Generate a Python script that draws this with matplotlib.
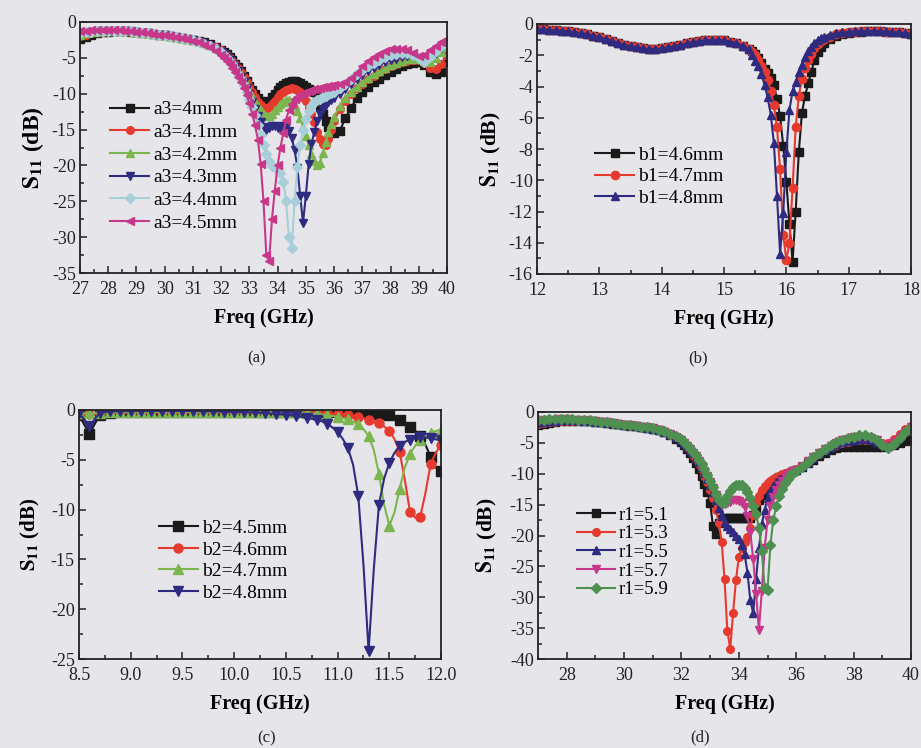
import numpy as np
import matplotlib
matplotlib.use("Agg")
import matplotlib.pyplot as plt
from matplotlib.ticker import MultipleLocator, FormatStrFormatter

plt.rcParams['font.family'] = ['Liberation Serif', 'DejaVu Serif']
plt.rcParams['mathtext.fontset'] = 'stix'
plt.rcParams['axes.unicode_minus'] = False

# ---------------- frequency grids (GHz) ----------------
freq_ad = np.round(np.concatenate([np.arange(27.0, 32.01, 0.2),
                                   np.arange(32.1, 35.91, 0.1),
                                   np.arange(36.0, 40.01, 0.2)]), 2)
freq_b = np.round(np.concatenate([np.arange(12.0, 15.41, 0.1),
                                  np.arange(15.45, 16.61, 0.05),
                                  np.arange(16.7, 18.01, 0.1)]), 2)
freq_c = np.round(np.concatenate([np.arange(8.5, 10.81, 0.1),
                                  np.arange(10.85, 12.01, 0.05)]), 2)

# ---------------- (a) a3 sweep, S11 (dB) ----------------
a_labels = ['a3=4mm', 'a3=4.1mm', 'a3=4.2mm', 'a3=4.3mm', 'a3=4.4mm', 'a3=4.5mm']
a3_40 = ([-2.4,-2.1,-1.8,-1.6,-1.45,-1.35,-1.3,-1.28,-1.3,-1.35,-1.42,-1.5,-1.6,-1.7,-1.8,-1.85,-1.95,-2.05,-2.2,-2.35,-2.5,-2.65,-2.85,-3.1,-3.45,-3.85]
         + [-4.2,-4.5,-4.9,-5.3,-5.8,-6.3,-6.9,-7.5,-8.2,-8.9,-9.5,-10.1,-10.6,-11.0,-11.2,-11.3,-11.0,-10.5,-10.0,-9.5,-9.1,-8.8,-8.5,-8.3,-8.2,-8.2,-8.3,-8.5,-8.8,-9.1,-9.4,-9.6,-9.8,-10.5,-11.8,-12.8,-13.8,-14.6,-15.2]
         + [-15.5,-15.2,-13.4,-12.0,-10.6,-9.7,-9.0,-8.4,-7.9,-7.4,-7.0,-6.6,-6.2,-5.9,-5.7,-5.6,-6.0,-7.0,-7.3,-7.0,-5.6])
a3_41 = ([-2.0,-1.8,-1.6,-1.45,-1.35,-1.28,-1.25,-1.25,-1.28,-1.33,-1.42,-1.5,-1.6,-1.7,-1.8,-1.85,-1.95,-2.05,-2.2,-2.35,-2.5,-2.68,-2.9,-3.2,-3.55,-3.95]
         + [-4.3,-4.6,-5.0,-5.4,-5.9,-6.4,-7.0,-7.7,-8.4,-9.1,-9.8,-10.5,-11.1,-11.6,-12.0,-12.1,-11.9,-11.5,-11.0,-10.5,-10.1,-9.8,-9.5,-9.3,-9.2,-9.3,-9.5,-9.8,-10.3,-11.0,-11.8,-12.8,-14.0,-15.3,-16.3,-17.0,-17.2,-16.3,-15.0]
         + [-13.8,-12.2,-11.0,-10.0,-9.2,-8.6,-8.0,-7.5,-7.0,-6.6,-6.2,-5.9,-5.6,-5.4,-5.3,-5.3,-5.7,-6.4,-6.6,-5.8,-4.6])
a3_42 = ([-1.8,-1.6,-1.45,-1.38,-1.3,-1.25,-1.22,-1.22,-1.26,-1.32,-1.4,-1.5,-1.6,-1.7,-1.8,-1.85,-1.95,-2.05,-2.2,-2.35,-2.5,-2.7,-2.93,-3.25,-3.65,-4.1]
         + [-4.4,-4.7,-5.1,-5.5,-6.0,-6.6,-7.2,-7.9,-8.7,-9.5,-10.3,-11.0,-11.7,-12.3,-12.8,-13.1,-13.1,-12.8,-12.3,-11.8,-11.4,-11.1,-10.9,-10.9,-11.1,-11.6,-12.4,-13.4,-14.6,-15.9,-17.2,-18.4,-19.4,-20.0,-19.6,-18.3,-16.8,-15.4,-14.2]
         + [-13.2,-11.7,-10.6,-9.7,-9.0,-8.4,-7.8,-7.3,-6.8,-6.4,-6.0,-5.7,-5.4,-5.2,-5.1,-5.1,-5.4,-5.6,-5.0,-4.2,-3.5])
a3_43 = ([-1.7,-1.5,-1.4,-1.32,-1.27,-1.22,-1.2,-1.2,-1.25,-1.3,-1.4,-1.5,-1.6,-1.7,-1.8,-1.85,-1.95,-2.05,-2.2,-2.35,-2.52,-2.72,-2.98,-3.32,-3.75,-4.2]
         + [-4.5,-4.9,-5.3,-5.8,-6.3,-6.9,-7.6,-8.4,-9.2,-10.1,-11.1,-12.1,-13.1,-14.0,-14.7,-15.0,-14.8,-14.5,-14.5,-14.8,-14.8,-14.5,-14.6,-15.2,-16.2,-17.8,-20.3,-24.3,-28.0,-24.2,-19.8,-17.0,-15.3,-13.8,-12.8,-12.1,-11.6,-11.2,-10.9]
         + [-10.6,-10.0,-9.4,-8.7,-8.0,-7.4,-6.9,-6.4,-6.0,-5.6,-5.3,-5.1,-4.9,-4.8,-4.8,-5.0,-5.4,-5.0,-4.3,-3.6,-3.0])
a3_44 = ([-1.6,-1.45,-1.35,-1.3,-1.25,-1.2,-1.2,-1.2,-1.25,-1.3,-1.4,-1.5,-1.6,-1.7,-1.8,-1.85,-1.95,-2.05,-2.2,-2.35,-2.52,-2.73,-3.0,-3.35,-3.78,-4.25]
         + [-4.6,-5.0,-5.4,-5.9,-6.5,-7.2,-8.0,-8.8,-9.7,-10.7,-11.8,-13.0,-14.3,-15.7,-17.1,-18.4,-19.4,-20.1,-20.4,-20.5,-21.0,-22.3,-25.0,-30.0,-31.5,-25.0,-20.2,-17.2,-15.0,-13.5,-12.4,-11.7,-11.2,-10.9,-10.7,-10.5,-10.3,-10.1,-9.9]
         + [-9.7,-9.2,-8.6,-7.9,-7.3,-6.7,-6.2,-5.7,-5.3,-4.9,-4.6,-4.4,-4.3,-4.3,-4.6,-5.0,-5.6,-4.9,-4.0,-3.4,-2.8])
a3_45 = ([-1.3,-1.2,-1.15,-1.12,-1.1,-1.1,-1.12,-1.15,-1.2,-1.27,-1.35,-1.45,-1.55,-1.65,-1.75,-1.85,-1.95,-2.05,-2.2,-2.38,-2.6,-2.85,-3.15,-3.55,-4.05,-4.65]
         + [-5.0,-5.4,-5.9,-6.4,-7.0,-7.7,-8.4,-9.2,-10.2,-11.3,-12.8,-14.4,-16.4,-19.8,-25.0,-32.5,-33.3,-27.5,-23.5,-20.0,-17.5,-15.5,-13.6,-12.3,-11.4,-10.8,-10.4,-10.1,-9.9,-9.7,-9.6,-9.5,-9.4,-9.3,-9.2,-9.1,-9.0,-8.9,-8.9]
         + [-8.8,-8.6,-8.3,-7.8,-7.1,-6.2,-5.5,-4.9,-4.4,-4.0,-3.8,-3.7,-3.7,-3.9,-4.3,-4.7,-4.6,-3.9,-3.3,-2.8,-2.4])

# ---------------- (b) b1 sweep ----------------
b_labels = ['b1=4.6mm', 'b1=4.7mm', 'b1=4.8mm']
b_shared_low = [-0.35,-0.35,-0.37,-0.4,-0.43,-0.47,-0.52,-0.58,-0.65,-0.74,
                -0.84,-0.95,-1.07,-1.2,-1.32,-1.42,-1.5,-1.56,-1.6,-1.6,
                -1.56,-1.5,-1.42,-1.33,-1.24,-1.17,-1.1,-1.05,-1.02,-1.02,
                -1.05,-1.12,-1.22,-1.38,-1.6]
b1_46 = b_shared_low + [-1.75,-1.95,-2.2,-2.5,-2.85,-3.15,-3.45,-3.9,-4.8,-5.9,-7.8,-10.1,-12.8,-15.2,-12.0,-8.2,-5.7,-4.6,-3.8,-3.1,-2.3,-1.8,-1.45,-1.2] \
        + [-0.95,-0.78,-0.66,-0.58,-0.52,-0.48,-0.46,-0.45,-0.46,-0.48,-0.5,-0.54,-0.58,-0.62]
b1_47 = b_shared_low + [-1.8,-2.0,-2.3,-2.7,-3.1,-3.6,-4.3,-5.2,-6.6,-9.3,-13.5,-15.1,-14.0,-10.5,-6.6,-4.6,-3.5,-2.8,-2.3,-1.9,-1.55,-1.3,-1.1,-0.95] \
        + [-0.8,-0.66,-0.58,-0.52,-0.48,-0.46,-0.45,-0.45,-0.46,-0.48,-0.5,-0.54,-0.58,-0.62]
b1_48 = b_shared_low + [-2.0,-2.35,-2.7,-3.2,-3.9,-4.7,-5.8,-7.6,-11.0,-14.7,-12.1,-8.2,-5.5,-4.3,-3.7,-3.1,-2.6,-2.1,-1.7,-1.45,-1.2,-1.0,-0.9,-0.8] \
        + [-0.7,-0.6,-0.54,-0.5,-0.47,-0.45,-0.44,-0.44,-0.45,-0.47,-0.5,-0.54,-0.58,-0.62]

# ---------------- (c) b2 sweep ----------------
c_labels = ['b2=4.5mm', 'b2=4.6mm', 'b2=4.7mm', 'b2=4.8mm']
b2_45 = [-0.5,-2.4,-0.5,-0.3,-0.22,-0.2,-0.2,-0.2,-0.2,-0.2,-0.2,-0.2,-0.2,-0.2,-0.2,-0.2,-0.2,-0.2,-0.2,-0.2,-0.2,-0.2,-0.2,-0.2] \
        + [-0.2,-0.2,-0.2,-0.2,-0.2,-0.22,-0.25,-0.27,-0.3,-0.32,-0.35,-0.4,-0.45,-0.55,-0.75,-1.05,-1.35,-1.7,-2.1,-2.6,-3.5,-4.7,-5.8,-6.1]
b2_46 = [-0.4,-0.4,-0.35,-0.25,-0.2,-0.2,-0.2,-0.2,-0.2,-0.2,-0.2,-0.2,-0.2,-0.2,-0.2,-0.2,-0.2,-0.2,-0.2,-0.2,-0.2,-0.22,-0.25,-0.3] \
        + [-0.32,-0.35,-0.38,-0.42,-0.48,-0.55,-0.63,-0.72,-0.83,-0.98,-1.15,-1.35,-1.65,-2.1,-2.9,-4.2,-7.0,-10.2,-10.8,-10.7,-8.3,-5.4,-4.3,-3.5]
b2_47 = [-0.3,-0.35,-0.3,-0.25,-0.2,-0.2,-0.2,-0.2,-0.2,-0.2,-0.2,-0.2,-0.2,-0.2,-0.2,-0.2,-0.2,-0.2,-0.2,-0.2,-0.2,-0.25,-0.3,-0.4] \
        + [-0.45,-0.52,-0.6,-0.7,-0.8,-0.95,-1.15,-1.45,-1.9,-2.6,-4.0,-6.4,-9.5,-11.6,-10.3,-7.9,-5.8,-4.4,-3.6,-3.0,-2.6,-2.3,-2.1,-2.0]
b2_48 = [-0.3,-1.6,-0.3,-0.15,-0.12,-0.1,-0.1,-0.1,-0.1,-0.1,-0.1,-0.1,-0.12,-0.14,-0.16,-0.2,-0.22,-0.25,-0.3,-0.38,-0.48,-0.6,-0.78,-1.0] \
        + [-1.15,-1.4,-1.75,-2.2,-2.9,-3.8,-5.5,-8.6,-15.5,-24.2,-16.0,-9.5,-6.9,-5.3,-4.3,-3.6,-3.2,-3.0,-2.85,-2.75,-2.75,-2.85,-2.95,-3.05]

# ---------------- (d) r1 sweep ----------------
d_labels = ['r1=5.1', 'r1=5.3', 'r1=5.5', 'r1=5.7', 'r1=5.9']
r1_51 = ([-2.1,-1.9,-1.75,-1.6,-1.5,-1.45,-1.42,-1.42,-1.45,-1.52,-1.6,-1.7,-1.8,-1.9,-2.0,-2.1,-2.2,-2.3,-2.42,-2.55,-2.7,-2.95,-3.3,-3.75,-4.3,-4.9]
         + [-5.4,-6.0,-6.7,-7.4,-8.3,-9.3,-10.4,-11.6,-13.0,-14.8,-18.5,-19.8,-18.0,-17.3,-17.2,-17.2,-17.2,-17.2,-17.2,-17.2,-17.2,-17.2,-17.2,-17.1,-16.7,-15.5,-14.3,-13.4,-12.7,-12.1,-11.6,-11.2,-10.9,-10.6,-10.4,-10.2,-10.0,-9.8,-9.6]
         + [-9.4,-8.9,-8.3,-7.7,-7.1,-6.6,-6.2,-5.9,-5.7,-5.6,-5.6,-5.6,-5.6,-5.6,-5.6,-5.6,-5.5,-5.3,-5.0,-4.7,-4.5])
r1_53 = ([-2.0,-1.85,-1.7,-1.58,-1.5,-1.45,-1.42,-1.42,-1.45,-1.52,-1.6,-1.7,-1.8,-1.9,-2.0,-2.1,-2.2,-2.3,-2.42,-2.55,-2.7,-2.93,-3.25,-3.65,-4.1,-4.6]
         + [-5.1,-5.6,-6.2,-6.9,-7.6,-8.4,-9.3,-10.3,-11.4,-12.6,-14.0,-15.8,-18.0,-21.0,-27.0,-35.5,-38.3,-32.5,-27.2,-23.5,-22.0,-21.0,-20.2,-18.8,-16.6,-14.8,-13.6,-12.7,-12.0,-11.5,-11.1,-10.8,-10.5,-10.3,-10.1,-9.9,-9.8,-9.6,-9.4]
         + [-9.2,-8.7,-8.1,-7.4,-6.8,-6.2,-5.7,-5.3,-5.0,-4.8,-4.6,-4.5,-4.5,-4.6,-4.8,-5.0,-5.0,-4.4,-3.6,-2.8,-2.2])
r1_55 = ([-1.7,-1.55,-1.45,-1.38,-1.33,-1.3,-1.3,-1.33,-1.38,-1.45,-1.55,-1.65,-1.75,-1.85,-1.95,-2.05,-2.15,-2.27,-2.4,-2.53,-2.68,-2.9,-3.2,-3.6,-4.05,-4.55]
         + [-5.0,-5.5,-6.1,-6.7,-7.4,-8.1,-8.9,-9.8,-10.8,-11.9,-13.0,-14.3,-15.6,-16.9,-17.8,-18.5,-19.0,-19.5,-20.0,-20.6,-21.5,-23.0,-26.0,-30.5,-32.6,-27.0,-22.0,-18.2,-15.8,-14.0,-12.8,-12.0,-11.4,-10.9,-10.5,-10.2,-10.0,-9.8,-9.6]
         + [-9.4,-8.8,-8.1,-7.4,-6.7,-6.1,-5.6,-5.2,-4.9,-4.7,-4.5,-4.4,-4.4,-4.5,-4.8,-5.2,-5.5,-4.8,-3.9,-3.1,-2.5])
r1_57 = ([-1.4,-1.3,-1.25,-1.22,-1.2,-1.2,-1.22,-1.25,-1.3,-1.38,-1.47,-1.57,-1.68,-1.8,-1.92,-2.03,-2.13,-2.24,-2.36,-2.5,-2.65,-2.88,-3.18,-3.55,-4.0,-4.5]
         + [-5.0,-5.5,-6.0,-6.6,-7.2,-7.9,-8.7,-9.5,-10.4,-11.3,-12.3,-13.4,-14.4,-15.0,-14.9,-14.7,-14.5,-14.3,-14.3,-14.4,-14.8,-15.4,-16.8,-19.5,-23.8,-29.4,-35.3,-29.0,-22.0,-17.5,-15.3,-13.8,-12.6,-11.8,-11.1,-10.6,-10.2,-9.9,-9.6]
         + [-9.4,-8.8,-8.0,-7.3,-6.6,-6.0,-5.5,-5.0,-4.6,-4.3,-4.1,-4.0,-4.0,-4.2,-4.6,-5.2,-5.6,-4.9,-4.0,-3.2,-2.5])
r1_59 = ([-1.3,-1.22,-1.18,-1.15,-1.15,-1.16,-1.18,-1.22,-1.28,-1.36,-1.46,-1.57,-1.68,-1.8,-1.92,-2.03,-2.13,-2.24,-2.36,-2.5,-2.65,-2.87,-3.15,-3.5,-3.95,-4.45]
         + [-4.9,-5.3,-5.8,-6.4,-7.0,-7.7,-8.5,-9.3,-10.2,-11.1,-12.1,-13.2,-14.2,-14.8,-14.5,-13.6,-12.8,-12.2,-11.9,-11.8,-11.9,-12.3,-13.0,-14.0,-15.2,-16.5,-18.8,-22.5,-28.5,-28.8,-21.5,-17.5,-15.3,-13.6,-12.4,-11.5,-10.8,-10.2,-9.8]
         + [-9.5,-8.9,-8.1,-7.3,-6.6,-6.0,-5.4,-4.9,-4.5,-4.2,-4.0,-3.8,-3.8,-4.0,-4.5,-5.3,-5.9,-5.2,-4.2,-3.3,-2.4])

# ---------------- styles ----------------
BLACK, RED, LGREEN, NAVY, LBLUE, PINK, DGREEN = ('#1a1a1a', '#e63a2e', '#7cb64e', '#2e2b80',
                                                 '#a8cfd9', '#c7388a', '#4e9050')
BG = '#e6e6ea'

fig = plt.figure(figsize=(9.21, 7.48), dpi=100, facecolor=BG)

W, H = 921.0, 748.0
def add_axes(l, r, t, b):
    return fig.add_axes([l / W, 1 - b / H, (r - l) / W, (b - t) / H])

axA = add_axes(80, 447, 22, 273)
axB = add_axes(537, 911, 24, 274)
axC = add_axes(79, 441, 410, 659)
axD = add_axes(538, 911, 412, 659)

def style(ax, xlim, ylim, xmaj, xmin, ymaj, ymin, xfmt=None, yl_size=15, yl_pad=3):
    ax.set_facecolor('none')
    ax.set_xlim(*xlim)
    ax.set_ylim(*ylim)
    ax.xaxis.set_major_locator(MultipleLocator(xmaj))
    ax.xaxis.set_minor_locator(MultipleLocator(xmin))
    ax.yaxis.set_major_locator(MultipleLocator(ymaj))
    ax.yaxis.set_minor_locator(MultipleLocator(ymin))
    if xfmt:
        ax.xaxis.set_major_formatter(FormatStrFormatter(xfmt))
    ax.tick_params(which='both', direction='in', top=False, right=False,
                   labelsize=13, colors='#222222', width=1.1)
    ax.tick_params(axis='x', pad=6)
    ax.tick_params(axis='y', pad=3)
    ax.tick_params(which='major', length=5)
    ax.tick_params(which='minor', length=3)
    for s in ax.spines.values():
        s.set_linewidth(1.3)
        s.set_color('#222222')
    ax.set_xlabel('Freq (GHz)', fontsize=14.5, fontweight='bold', labelpad=7)
    ax.set_ylabel(r'$\mathbf{S_{11}}$' + ' (dB)', fontsize=yl_size, fontweight='bold',
                  labelpad=yl_pad)

def draw(ax, x, series, labels, colors, markers, ms, markevery=None):
    for y, lab, c, m in zip(series, labels, colors, markers):
        ax.plot(x, y, color=c, marker=m, ms=ms, lw=1.5, mec=c, mfc=c,
                label=lab, markevery=markevery)

LEG = dict(loc='upper left', frameon=False, handlelength=2.0, handletextpad=0.2,
           borderpad=0.2)

# (a)
style(axA, (27, 40), (-35, 0), 1, 0.5, 5, 2.5, yl_size=17, yl_pad=4)
draw(axA, freq_ad, [a3_40, a3_41, a3_42, a3_43, a3_44, a3_45], a_labels,
     [BLACK, RED, LGREEN, NAVY, LBLUE, PINK], ['s', 'o', '^', 'v', 'D', '<'], 5.5)
axA.legend(bbox_to_anchor=(0.045, 0.74), fontsize=14, labelspacing=0.26, **LEG)

# (b)
style(axB, (12, 18), (-16, 0), 1, 0.5, 2, 1, yl_size=15.5, yl_pad=4)
draw(axB, freq_b, [b1_46, b1_47, b1_48], b_labels, [BLACK, RED, NAVY], ['s', 'o', '^'], 6)
axB.legend(bbox_to_anchor=(0.12, 0.565), fontsize=14, labelspacing=0.2, **LEG)

# (c)
style(axC, (8.5, 12.0), (-25, 0), 0.5, 0.25, 5, 2.5, xfmt='%.1f', yl_size=15, yl_pad=6)
mk_c = [i for i, f in enumerate(freq_c) if abs(f * 10 - round(f * 10)) < 1e-6]
draw(axC, freq_c, [b2_45, b2_46, b2_47, b2_48], c_labels, [BLACK, RED, LGREEN, NAVY],
     ['s', 'o', '^', 'v'], 6.5, markevery=mk_c)
axC.legend(bbox_to_anchor=(0.183, 0.615), fontsize=14, labelspacing=0.2, **LEG)

# (d)
style(axD, (27, 40), (-40, 0), 2, 1, 5, 2.5, yl_size=15.5, yl_pad=8)
draw(axD, freq_ad, [r1_51, r1_53, r1_55, r1_57, r1_59], d_labels,
     [BLACK, RED, NAVY, PINK, DGREEN], ['s', 'o', '^', 'v', 'D'], 5.5)
axD.legend(bbox_to_anchor=(0.07, 0.67), fontsize=13.5, labelspacing=0.08, **LEG)

for txt, x, y in [('(a)', 257, 358), ('(b)', 698, 358), ('(c)', 267, 738), ('(d)', 700, 737)]:
    fig.text(x / W, 1 - y / H, txt, ha='center', va='center', fontsize=12, color='#222222')

fig.savefig('out.png', dpi=100, facecolor=BG)
